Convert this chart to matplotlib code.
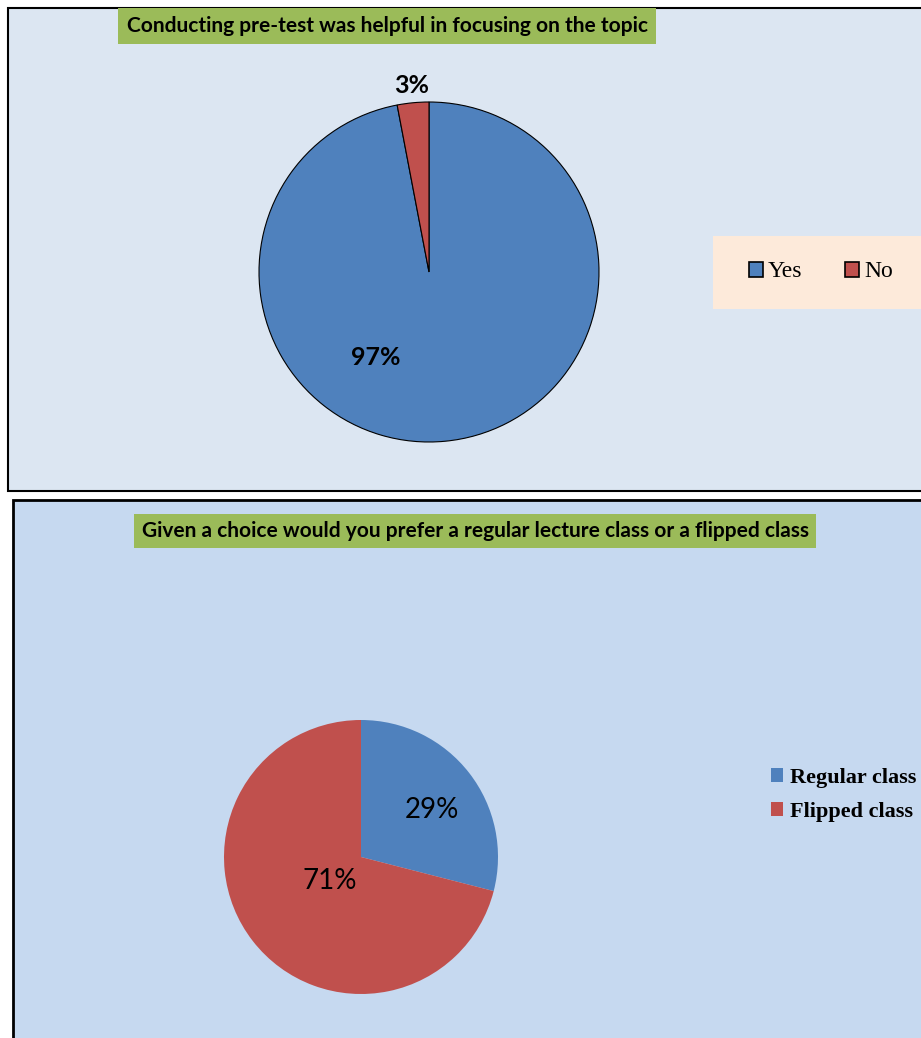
import numpy as np
import matplotlib.pyplot as plt
from matplotlib.patches import Rectangle, Patch

# data
top_labels = ["Yes", "No"]
top_values = [97, 3]
bot_labels = ["Regular class", "Flipped class"]
bot_values = [29, 71]
top_title = "Conducting pre-test was helpful in focusing on the topic"
bot_title = "Given a choice would you prefer a regular lecture class or a flipped class"

blue = "#4F81BD"
red = "#C0504D"
W, H = 921, 1038

def fx(px):
    return px / W

def fy(py):
    return 1 - py / H

fig = plt.figure(figsize=(W / 100, H / 100), dpi=100)
fig.patch.set_facecolor("white")

# panel backgrounds
fig.patches.append(Rectangle((fx(8), fy(491)), 1.0, (491 - 8) / H, transform=fig.transFigure,
                             facecolor="#DCE6F2", edgecolor="black", lw=1.5, zorder=-2))
fig.patches.append(Rectangle((fx(13), -0.01), 1.0, (1038 - 500) / H + 0.01, transform=fig.transFigure,
                             facecolor="#C6D9F0", edgecolor="black", lw=2, zorder=-2))

title_font = ["Lato", "DejaVu Sans"]
fig.text(fx(387), fy(26), top_title, ha="center", va="center", fontsize=15, fontweight="bold",
         family=title_font, bbox=dict(boxstyle="square,pad=0.4", fc="#9BBB59", ec="none"))
fig.text(fx(475), fy(531), bot_title, ha="center", va="center", fontsize=15, fontweight="bold",
         family=title_font, bbox=dict(boxstyle="square,pad=0.35", fc="#9BBB59", ec="none"))

# top pie
ax1 = fig.add_axes([fx(259), fy(442), 340 / W, 340 / H])
ax1.set_zorder(2)
ax1.patch.set_alpha(0)
w1, t1 = ax1.pie(top_values, colors=[blue, red], startangle=90, counterclock=False,
                 wedgeprops=dict(edgecolor="black", linewidth=0.8))
ax1.set_xlim(-1, 1)
ax1.set_ylim(-1, 1)
ax1.set_aspect("equal")
for v, ang, r in zip(top_values, [238, 95.4], [0.59, 1.1]):
    a = np.deg2rad(ang)
    ax1.text(r * np.cos(a), r * np.sin(a), f"{v}%", ha="center", va="center",
             fontsize=18, fontweight="bold", family=title_font)

fig.patches.append(Rectangle((fx(713), fy(309)), 0.3, (309 - 236) / H, transform=fig.transFigure,
                             facecolor="#FDEADA", edgecolor="none", zorder=-1))
h1 = [Patch(facecolor=c, edgecolor="black", lw=1.2) for c in [blue, red]]
fig.legend(h1, top_labels, loc="center", bbox_to_anchor=(fx(821), fy(272)), ncol=2, frameon=False,
           prop=dict(family="Liberation Serif", size=17), handlelength=0.6, handleheight=0.6,
           handletextpad=0.2, columnspacing=1.8)

# bottom pie
ax2 = fig.add_axes([fx(224), fy(994), 274 / W, 274 / H])
ax2.set_zorder(2)
ax2.patch.set_alpha(0)
w2, t2 = ax2.pie(bot_values, colors=[blue, red], startangle=90, counterclock=False)
ax2.set_xlim(-1, 1)
ax2.set_ylim(-1, 1)
ax2.set_aspect("equal")
for v, ang, r in zip(bot_values, [33.5, 217], [0.62, 0.29]):
    a = np.deg2rad(ang)
    ax2.text(r * np.cos(a), r * np.sin(a), f"{v}%", ha="center", va="center",
             fontsize=20, family=title_font)

h2 = [Patch(facecolor=c, edgecolor="none") for c in [blue, red]]
fig.legend(h2, bot_labels, loc="upper left", bbox_to_anchor=(fx(751), fy(748)), ncol=1, frameon=False,
           prop=dict(family="Liberation Serif", size=16, weight="bold"), handlelength=0.55,
           handleheight=0.55, handletextpad=0.3, labelspacing=0.62)

fig.savefig("out.png", dpi=100)
